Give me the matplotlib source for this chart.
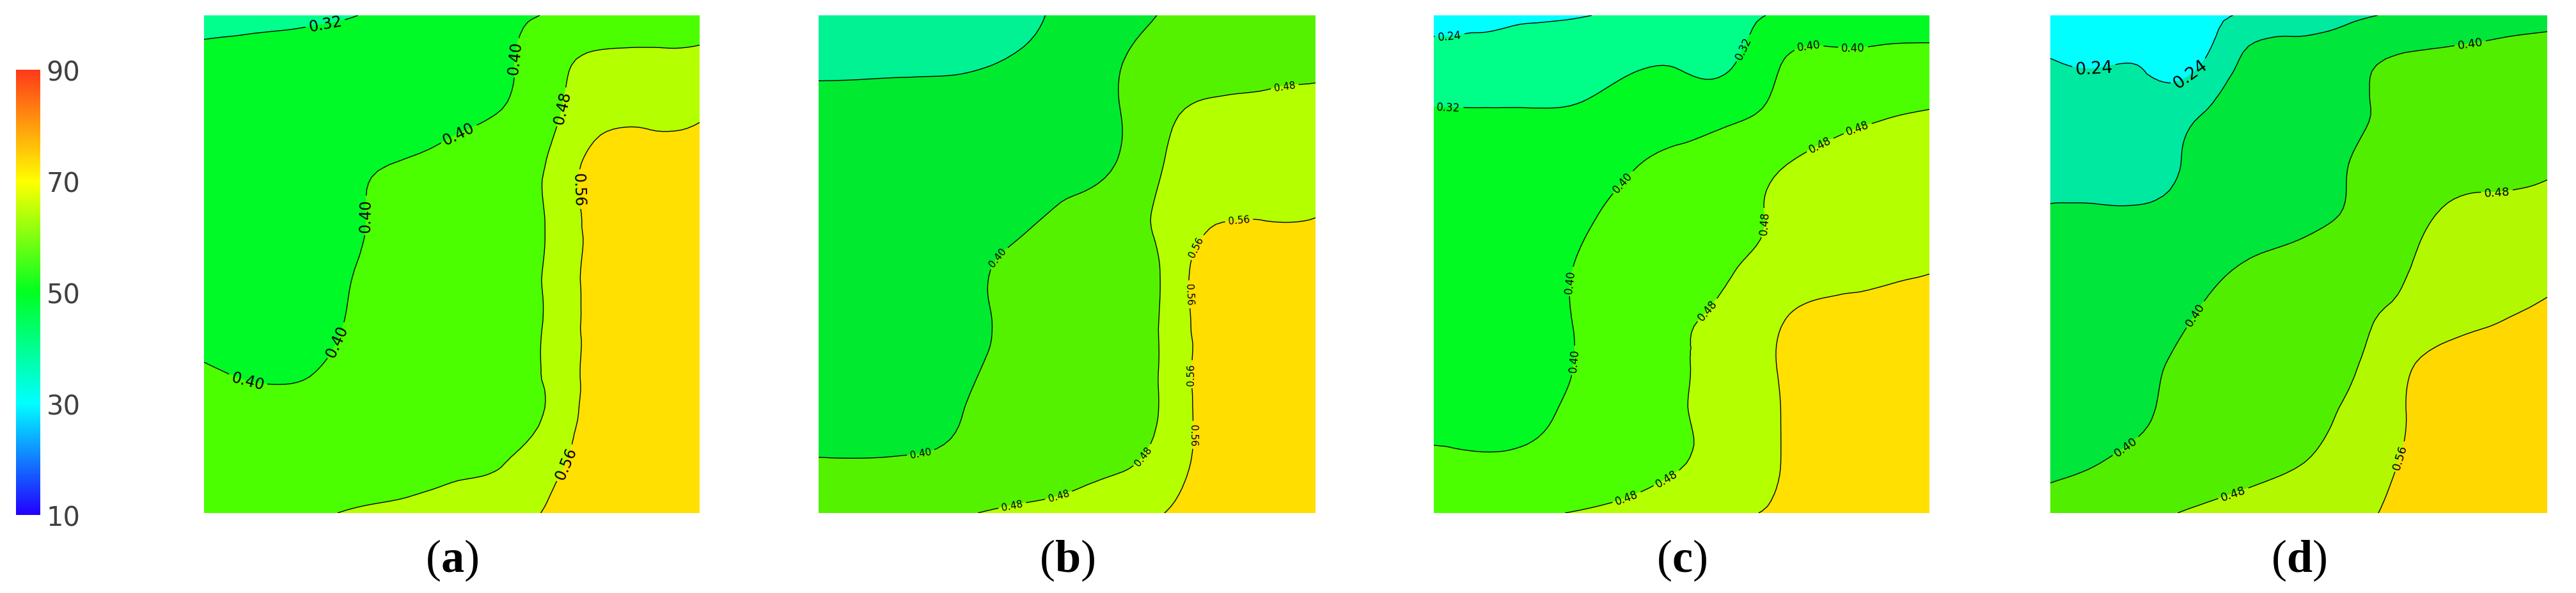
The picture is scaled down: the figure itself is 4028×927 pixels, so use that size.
import numpy as np
import matplotlib
matplotlib.use("Agg")
import matplotlib.pyplot as plt
import matplotlib.tri as mtri
from matplotlib.colors import LinearSegmentedColormap, Normalize, ListedColormap, BoundaryNorm
from matplotlib.cm import ScalarMappable

plt.rcParams["mathtext.fontset"] = "custom"
plt.rcParams["mathtext.rm"] = "Liberation Serif"
plt.rcParams["mathtext.bf"] = "Liberation Serif:bold"

# ---------------- data ----------------
panel_labels = ["a", "b", "c", "d"]
contour_levels = [0.24, 0.32, 0.40, 0.48, 0.56]
colorbar_ticks = [10, 30, 50, 70, 90]
grid_u = np.linspace(0, 1, 11)          # left -> right
grid_v = np.linspace(1, 0, 11)          # rows top -> bottom

grid_a = [
    [0.300, 0.303, 0.308, 0.318, 0.340, 0.360, 0.383, 0.405, 0.420, 0.440, 0.455],
    [0.335, 0.340, 0.345, 0.352, 0.360, 0.370, 0.385, 0.455, 0.495, 0.495, 0.495],
    [0.345, 0.350, 0.355, 0.362, 0.370, 0.380, 0.405, 0.465, 0.530, 0.540, 0.550],
    [0.355, 0.362, 0.372, 0.390, 0.403, 0.425, 0.455, 0.490, 0.600, 0.600, 0.600],
    [0.360, 0.368, 0.378, 0.393, 0.415, 0.430, 0.460, 0.490, 0.600, 0.605, 0.605],
    [0.365, 0.372, 0.383, 0.398, 0.420, 0.435, 0.462, 0.492, 0.600, 0.605, 0.605],
    [0.370, 0.377, 0.390, 0.403, 0.425, 0.440, 0.462, 0.492, 0.600, 0.605, 0.605],
    [0.401, 0.392, 0.396, 0.410, 0.428, 0.443, 0.462, 0.495, 0.600, 0.605, 0.605],
    [0.420, 0.412, 0.410, 0.420, 0.435, 0.448, 0.470, 0.492, 0.610, 0.605, 0.605],
    [0.430, 0.428, 0.430, 0.440, 0.452, 0.465, 0.478, 0.535, 0.600, 0.605, 0.605],
    [0.440, 0.445, 0.465, 0.485, 0.495, 0.510, 0.530, 0.570, 0.605, 0.605, 0.605],
]
grid_b = [
    [0.270, 0.275, 0.283, 0.293, 0.307, 0.333, 0.370, 0.405, 0.420, 0.435, 0.450],
    [0.310, 0.310, 0.311, 0.314, 0.328, 0.350, 0.395, 0.430, 0.445, 0.460, 0.470],
    [0.335, 0.340, 0.345, 0.352, 0.360, 0.370, 0.395, 0.465, 0.500, 0.505, 0.510],
    [0.345, 0.350, 0.355, 0.362, 0.370, 0.380, 0.402, 0.485, 0.525, 0.535, 0.545],
    [0.350, 0.355, 0.362, 0.370, 0.385, 0.410, 0.440, 0.500, 0.545, 0.552, 0.556],
    [0.355, 0.360, 0.368, 0.387, 0.410, 0.425, 0.445, 0.495, 0.620, 0.620, 0.620],
    [0.360, 0.365, 0.375, 0.390, 0.410, 0.428, 0.448, 0.495, 0.620, 0.620, 0.620],
    [0.362, 0.368, 0.378, 0.392, 0.415, 0.430, 0.450, 0.495, 0.615, 0.620, 0.620],
    [0.368, 0.374, 0.385, 0.402, 0.420, 0.435, 0.452, 0.495, 0.610, 0.615, 0.615],
    [0.405, 0.404, 0.406, 0.415, 0.430, 0.445, 0.470, 0.515, 0.600, 0.605, 0.610],
    [0.430, 0.440, 0.455, 0.475, 0.495, 0.515, 0.535, 0.562, 0.610, 0.615, 0.620],
]
grid_c = [
    [0.235, 0.236, 0.237, 0.238, 0.255, 0.275, 0.300, 0.330, 0.350, 0.355, 0.360],
    [0.262, 0.265, 0.272, 0.290, 0.312, 0.315, 0.316, 0.400, 0.420, 0.425, 0.430],
    [0.330, 0.328, 0.327, 0.330, 0.355, 0.368, 0.385, 0.420, 0.455, 0.475, 0.485],
    [0.345, 0.350, 0.355, 0.365, 0.395, 0.420, 0.440, 0.475, 0.505, 0.515, 0.525],
    [0.350, 0.355, 0.365, 0.390, 0.420, 0.440, 0.460, 0.490, 0.515, 0.530, 0.540],
    [0.355, 0.360, 0.375, 0.405, 0.425, 0.445, 0.475, 0.500, 0.520, 0.535, 0.550],
    [0.358, 0.365, 0.380, 0.405, 0.430, 0.472, 0.492, 0.550, 0.580, 0.590, 0.600],
    [0.360, 0.368, 0.383, 0.403, 0.430, 0.475, 0.505, 0.565, 0.590, 0.595, 0.600],
    [0.368, 0.375, 0.390, 0.410, 0.435, 0.476, 0.505, 0.560, 0.590, 0.595, 0.600],
    [0.420, 0.410, 0.415, 0.428, 0.448, 0.478, 0.505, 0.560, 0.590, 0.595, 0.600],
    [0.435, 0.450, 0.470, 0.485, 0.505, 0.525, 0.550, 0.570, 0.595, 0.600, 0.600],
]
grid_d = [
    [0.200, 0.205, 0.212, 0.225, 0.250, 0.275, 0.300, 0.330, 0.350, 0.365, 0.375],
    [0.245, 0.238, 0.235, 0.238, 0.345, 0.360, 0.380, 0.410, 0.420, 0.430, 0.440],
    [0.265, 0.262, 0.262, 0.318, 0.350, 0.365, 0.385, 0.420, 0.440, 0.450, 0.460],
    [0.280, 0.285, 0.295, 0.335, 0.350, 0.365, 0.400, 0.430, 0.450, 0.460, 0.470],
    [0.330, 0.328, 0.328, 0.340, 0.355, 0.375, 0.405, 0.440, 0.490, 0.500, 0.510],
    [0.340, 0.345, 0.355, 0.375, 0.405, 0.425, 0.445, 0.470, 0.505, 0.525, 0.540],
    [0.350, 0.360, 0.375, 0.402, 0.420, 0.440, 0.465, 0.490, 0.520, 0.550, 0.575],
    [0.360, 0.370, 0.392, 0.415, 0.435, 0.452, 0.470, 0.535, 0.590, 0.600, 0.610],
    [0.372, 0.385, 0.398, 0.425, 0.442, 0.460, 0.490, 0.550, 0.595, 0.600, 0.605],
    [0.390, 0.400, 0.420, 0.440, 0.460, 0.478, 0.510, 0.560, 0.595, 0.600, 0.605],
    [0.420, 0.440, 0.465, 0.490, 0.505, 0.520, 0.540, 0.575, 0.600, 0.605, 0.610],
]
grids = [grid_a, grid_b, grid_c, grid_d]

# label anchor points (u, v) on each panel
label_pos_a = [(0.25, 0.952), (0.655, 0.91), (0.70, 0.82), (0.52, 0.75), (0.35, 0.60),
               (0.74, 0.65), (0.26, 0.35), (0.085, 0.25), (0.73, 0.10)]
label_pos_b = [(0.942, 0.83), (0.849, 0.561), (0.753, 0.538), (0.375, 0.50), (0.739, 0.439),
               (0.746, 0.279), (0.746, 0.157), (0.206, 0.119), (0.663, 0.108), (0.481, 0.043),
               (0.388, 0.024)]
label_pos_c = [(0.03, 0.986), (0.03, 0.825), (0.654, 0.92), (0.756, 0.94), (0.846, 0.937),
               (0.766, 0.766), (0.849, 0.79), (0.379, 0.667), (0.674, 0.582), (0.28, 0.465),
               (0.561, 0.40), (0.29, 0.306), (0.389, 0.032), (0.478, 0.055)]
label_pos_d_big = [(0.088, 0.891), (0.283, 0.88)]
label_pos_d = [(0.843, 0.957), (0.899, 0.637), (0.29, 0.40), (0.154, 0.131), (0.363, 0.055),
               (0.708, 0.112)]

# ---------------- style ----------------
band_bounds = [0.0, 0.24, 0.32, 0.40, 0.48, 0.56, 1.0]
panel_palettes = [
    ["#00FFFF", "#00FF8C", "#00FA28", "#4CFF00", "#B4FF00", "#FFE000"],
    ["#00FFFF", "#00F293", "#00EA30", "#55F200", "#B4FF00", "#FFDE00"],
    ["#00FFFF", "#00FF88", "#00FA22", "#4CFF00", "#B4FF00", "#FFE000"],
    ["#00FFFF", "#00E9A0", "#00E63A", "#52EE00", "#B2F800", "#FFD800"],
]
panel_boxes = [  # left, right, top, bottom in pixels
    (319, 1094, 25, 803),
    (1280, 2057, 25, 803),
    (2242, 3017, 25, 803),
    (3206, 3983, 25, 803),
]
W, H = 4028, 928
fig = plt.figure(figsize=(W / 100, H / 100), dpi=100)

# triangulation of the grid
X, Y = np.meshgrid(grid_u, grid_v)
nr, nc = X.shape
tris = []
for i in range(nr - 1):
    for j in range(nc - 1):
        p = i * nc + j
        tris.append([p, p + 1, p + nc])
        tris.append([p + 1, p + nc + 1, p + nc])
tri = mtri.Triangulation(X.ravel(), Y.ravel(), np.array(tris))
refiner = mtri.UniformTriRefiner(tri)

label_sets = [
    [(label_pos_a, 17)],
    [(label_pos_b, 11)],
    [(label_pos_c, 12)],
    [(label_pos_d_big, 19), (label_pos_d, 13)],
]

for k, (box, Z) in enumerate(zip(panel_boxes, grids)):
    l, r, t, b = box
    ax = fig.add_axes([l / W, 1 - b / H, (r - l) / W, (b - t) / H])
    fill_cmap = ListedColormap(panel_palettes[k])
    fill_norm = BoundaryNorm(band_bounds, fill_cmap.N)
    z = np.array(Z, dtype=float).ravel()
    tri_f, z_f = refiner.refine_field(z, subdiv=3)
    ax.tricontourf(tri_f, z_f, levels=band_bounds, cmap=fill_cmap, norm=fill_norm)
    cs = ax.tricontour(tri_f, z_f, levels=contour_levels, colors="k", linewidths=1.0)
    for pos, fs in label_sets[k]:
        ax.clabel(cs, inline=True, fmt="%.2f", fontsize=fs, manual=pos, colors="k")
    ax.set_xlim(0, 1)
    ax.set_ylim(0, 1)
    ax.axis("off")
    cx = (l + r) / 2 / W
    fig.text(cx, 1 - 876 / H, r"$\mathrm{(}\mathbf{" + panel_labels[k] + r"}\mathrm{)}$",
             ha="center", va="center", fontsize=52)

# colour bar
cb_cmap = LinearSegmentedColormap.from_list(
    "bar", [(0.0, "#2200FF"), (0.25, "#00FFFF"), (0.5, "#00FF20"), (0.75, "#FFFF00"), (1.0, "#FF3A1A")])
cax = fig.add_axes([25 / W, 1 - 806 / H, 38 / W, (806 - 110) / H])
cb = fig.colorbar(ScalarMappable(norm=Normalize(10, 90), cmap=cb_cmap), cax=cax, ticks=colorbar_ticks)
cb.outline.set_visible(False)
cax.tick_params(length=0, labelsize=30, labelcolor="#404040", pad=7)

fig.savefig("out.png", dpi=100)
